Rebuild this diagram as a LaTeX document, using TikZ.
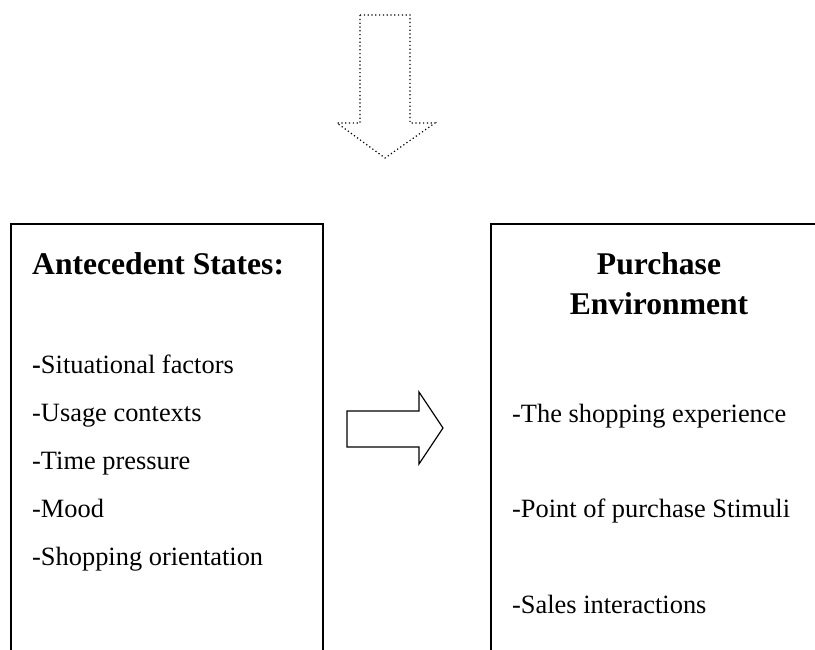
\documentclass[tikz,border=0pt]{standalone}
\usepackage{fontspec}
\setmainfont{Liberation Serif}
\usetikzlibrary{calc}
\newcommand{\PoliceCorps}{\fontsize{26.4}{30}\selectfont}
\newcommand{\PoliceTitre}{\bfseries\fontsize{31.6}{38}\selectfont}
\newcommand{\Rubrique}[4]{\node[anchor=base west,inner sep=0pt,font=\PoliceCorps] (#1) at (#2,#3) {#4}}

\begin{document}
\begin{tikzpicture}[x=1pt,y=-1pt]
	\def\hautBoite{224}
	\def\basBoite{650}
	\useasboundingbox (0,0) rectangle (815,650); % Image frame
	
	%Coins des boites
	\coordinate (G1) at (11,\basBoite);
	\coordinate (G2) at (11,\hautBoite);
	\coordinate (G3) at (323,\hautBoite);
	\coordinate (G4) at (323,\basBoite);
	\coordinate (D1) at (491,\basBoite);
	\coordinate (D2) at (491,\hautBoite);
	\coordinate (D3) at (830,\hautBoite);
	
	%Boites
	\draw[line width=1.2pt] (G1) -- (G2) -- (G3) -- (G4);
	\draw[line width=1.2pt] (D1) -- (D2) -- (D3);
	
	%Fleche du haut
	\draw[line width=1.2pt,dash pattern=on 1.2pt off 2.6pt] (360,15) -- (410,15) -- (410,123) -- (435,123) -- (385,158) -- (337,123) -- (360,123) -- cycle;
	
	%Fleche du milieu
	\draw[line width=1.2pt,line join=miter] (347,411) -- (419,411) -- (419,392) -- (443,428) -- (419,464) -- (419,447) -- (347,447) -- cycle;
	
	%Titres
	\node[anchor=base west,inner sep=0pt,font=\PoliceTitre] (antecedent) at (32,275) {Antecedent States:};
	\node[anchor=base,inner sep=0pt,font=\PoliceTitre] (achat) at (659,275) {Purchase};
	\node[anchor=base,inner sep=0pt,font=\PoliceTitre] (environnement) at (659,315) {Environment};
	
	%Listes
	\foreach \i/\texte in {0/{\textbf{-}Situational factors},1/-Usage contexts,2/-Time pressure,3/-Mood,4/-Shopping orientation}{
		\Rubrique{ant-\i}{32}{373+48*\i}{\texte};
	}
	\foreach \i/\texte in {0/-The shopping experience,1/-Point of purchase Stimuli,2/-Sales interactions}{
		\Rubrique{env-\i}{512}{422+95.5*\i}{\texte};
	}
	
\end{tikzpicture}
\end{document}
